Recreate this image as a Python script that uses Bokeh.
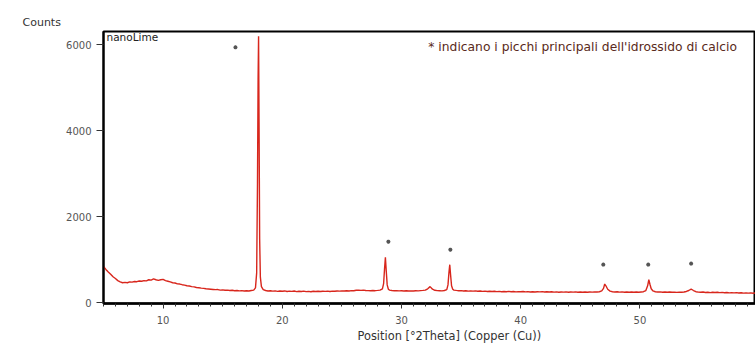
from bokeh.plotting import figure
from bokeh.models import Range1d, Label, Title, FixedTicker
from bokeh.embed import file_html
from bokeh.resources import INLINE

# ---- data ----
two_theta = [
    5.0, 5.2, 5.4, 5.6, 5.8, 6.0, 6.2, 6.4, 6.6, 6.8, 7.0, 7.2, 7.4, 7.6, 7.8, 8.0, 8.2, 8.4, 8.6, 8.8,
    9.0, 9.2, 9.4, 9.6, 9.8, 10.0, 10.2, 10.4, 10.6, 10.8, 11.0, 11.2, 11.4, 11.6, 11.8, 12.0, 12.2, 12.4,
    12.6, 12.8, 13.0, 13.2, 13.4, 13.6, 13.8, 14.0, 14.2, 14.4, 14.6, 14.8, 15.0, 15.2, 15.4, 15.6, 15.8,
    16.0, 16.2, 16.4, 16.6, 16.8, 17.0, 17.2, 17.4, 17.6,
    17.75, 17.85, 17.92, 17.97, 18.01, 18.05, 18.1, 18.16, 18.25, 18.4, 18.6,
    18.8, 19.0, 19.2, 19.4, 19.6, 19.8, 20.0, 20.2, 20.4, 20.6, 20.8, 21.0, 21.2, 21.4, 21.6, 21.8, 22.0,
    22.2, 22.4, 22.6, 22.8, 23.0, 23.2, 23.4, 23.6, 23.8, 24.0, 24.2, 24.4, 24.6, 24.8, 25.0, 25.2, 25.4,
    25.6, 25.8, 26.0, 26.2, 26.4, 26.6, 26.8, 27.0, 27.2, 27.4, 27.6, 27.8, 28.0, 28.2, 28.4,
    28.5, 28.58, 28.65, 28.72, 28.8, 28.9, 29.0,
    29.2, 29.4, 29.6, 29.8, 30.0, 30.2, 30.4, 30.6, 30.8, 31.0, 31.2, 31.4, 31.6, 31.8, 32.0, 32.2, 32.4,
    32.6, 32.8, 33.0, 33.2, 33.4, 33.6, 33.8,
    33.9, 33.98, 34.05, 34.12, 34.2, 34.3, 34.4,
    34.6, 34.8, 35.0, 35.2, 35.4, 35.6, 35.8, 36.0, 36.2, 36.4, 36.6, 36.8, 37.0, 37.2, 37.4, 37.6, 37.8,
    38.0, 38.2, 38.4, 38.6, 38.8, 39.0, 39.2, 39.4, 39.6, 39.8, 40.0, 40.2, 40.4, 40.6, 40.8, 41.0, 41.2,
    41.4, 41.6, 41.8, 42.0, 42.2, 42.4, 42.6, 42.8, 43.0, 43.2, 43.4, 43.6, 43.8, 44.0, 44.2, 44.4, 44.6,
    44.8, 45.0, 45.2, 45.4, 45.6, 45.8, 46.0, 46.2, 46.4, 46.6, 46.8,
    46.95, 47.05, 47.15, 47.3, 47.5,
    47.7, 47.9, 48.1, 48.3, 48.5, 48.7, 48.9, 49.1, 49.3, 49.5, 49.7, 49.9, 50.1, 50.3, 50.5,
    50.65, 50.75, 50.85, 50.95, 51.1,
    51.3, 51.5, 51.7, 51.9, 52.1, 52.3, 52.5, 52.7, 52.9, 53.1, 53.3, 53.5, 53.7, 53.9, 54.1, 54.3, 54.5,
    54.7, 54.9, 55.1, 55.3, 55.5, 55.7, 55.9, 56.1, 56.3, 56.5, 56.7, 56.9, 57.1, 57.3, 57.5, 57.7, 57.9,
    58.1, 58.3, 58.5, 58.7, 58.9, 59.1, 59.3, 59.5, 59.7, 59.9,
]
counts = [
    850, 780, 720, 670, 610, 570, 520, 490, 470, 480, 470, 490, 485, 500, 495, 510, 505, 520, 515, 540,
    530, 560, 540, 525, 540, 550, 520, 505, 490, 470, 465, 445, 440, 425, 415, 400, 395, 380,
    375, 360, 355, 345, 340, 330, 325, 320, 315, 310, 312, 300, 305, 295, 300, 290, 295,
    285, 290, 282, 288, 280, 285, 278, 290, 300,
    350, 700, 2800, 5200, 6200, 4200, 1500, 600, 380, 310, 290,
    280, 285, 275, 282, 270, 278, 272, 280, 268, 275, 270, 278, 265, 272, 268, 275, 265,
    270, 262, 272, 268, 274, 266, 272, 270, 276, 268, 275, 272, 280, 276, 282, 278, 285,
    280, 288, 285, 295, 300, 292, 298, 290, 288, 284, 290, 286, 292, 300, 330,
    450, 800, 1060, 750, 420, 320, 300,
    290, 285, 288, 282, 285, 280, 284, 278, 282, 280, 285, 282, 288, 292, 300, 330, 380,
    320, 295, 288, 285, 282, 290, 310,
    420, 700, 890, 650, 400, 320, 300,
    292, 285, 288, 280, 284, 276, 280, 275, 282, 272, 278, 270, 276, 268, 274, 266, 272,
    265, 270, 262, 268, 262, 270, 260, 266, 258, 265, 262, 268, 258, 264, 256, 262, 255,
    262, 258, 264, 255, 262, 256, 260, 252, 258, 250, 256, 252, 258, 250, 256, 252, 258,
    250, 255, 248, 254, 250, 256, 252, 258, 255, 262, 280,
    340, 440, 400, 320, 275,
    262, 256, 260, 252, 258, 250, 256, 250, 254, 248, 255, 250, 256, 262, 290,
    400, 540, 430, 330, 280,
    262, 255, 258, 250, 256, 248, 254, 248, 252, 246, 252, 250, 256, 268, 290, 320, 290,
    262, 252, 248, 254, 245, 250, 242, 250, 244, 248, 240, 246, 238, 244, 236, 242, 234,
    240, 232, 238, 230, 236, 228, 234, 226, 232, 228,
]

# asterisks marking the main calcium hydroxide peaks
star_x = [16.07, 28.9, 34.1, 46.93, 50.7, 54.3]
star_y = [5942, 1425, 1240, 892, 892, 915]

y_ticks = [0, 2000, 4000, 6000]
x_ticks = [10, 20, 30, 40, 50]

FONT = "DejaVu Sans"

p = figure(width=755, height=343, output_backend="svg", toolbar_location=None,
           x_range=Range1d(5, 59.7), y_range=Range1d(-12, 6310),
           min_border_left=103, min_border_right=0, min_border_top=31, min_border_bottom=40)

p.xgrid.visible = False
p.ygrid.visible = False
p.outline_line_color = "black"
p.outline_line_width = 2
p.background_fill_color = "white"
p.border_fill_color = "white"

p.line(two_theta, counts, line_color="#d8261c", line_width=1.4)
p.scatter(star_x, star_y, marker="asterisk", size=4, line_color="#555555", line_width=1.2)

# "Counts" unit label above the y axis
p.add_layout(Title(text="Counts", align="left", offset=-81, standoff=5,
                   text_font=FONT, text_font_size="11px", text_font_style="normal",
                   text_color="#333333"), "above")

# axes
xa = p.xaxis[0]
xa.ticker = FixedTicker(ticks=x_ticks, minor_ticks=list(range(5, 60)))
xa.axis_line_color = "black"
xa.axis_line_width = 2.5
xa.major_tick_in = 0
xa.major_tick_out = 5
xa.minor_tick_in = 0
xa.minor_tick_out = 3
xa.major_tick_line_color = "#333333"
xa.minor_tick_line_color = "#333333"
xa.major_label_text_font = FONT
xa.major_label_text_font_size = "10px"
xa.major_label_text_color = "#555555"
xa.major_label_standoff = 7

# x-axis title (offset to the right as in the reference)
p.add_layout(Title(text="Position [°2Theta] (Copper (Cu))", align="left", offset=254, standoff=0,
                   text_font=FONT, text_font_size="11.4px", text_font_style="normal",
                   text_color="#333333"), "below")

ya = p.yaxis[0]
ya.ticker = FixedTicker(ticks=y_ticks, minor_ticks=[])
ya.axis_line_color = "black"
ya.axis_line_width = 2
ya.major_tick_in = 0
ya.major_tick_out = 7
ya.major_tick_line_color = "#333333"
ya.minor_tick_line_color = None
ya.major_label_text_font = FONT
ya.major_label_text_font_size = "10px"
ya.major_label_text_color = "#555555"
ya.major_label_standoff = 5

# texts inside the plot
p.add_layout(Label(x=5.25, y=6173, text="nanoLime", text_font=FONT, text_font_size="10.5px",
                   text_color="#222222", text_baseline="middle", text_align="left"))
p.add_layout(Label(x=32.25, y=5942, text="* indicano i picchi principali dell'idrossido di calcio",
                   text_font=FONT, text_font_size="12.3px", text_color="#5a2a20",
                   text_baseline="middle", text_align="left"))

open("out.html", "w").write(file_html(p, INLINE))
